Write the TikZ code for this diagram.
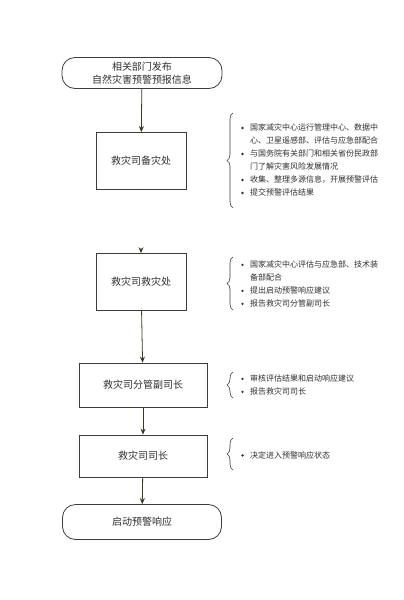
\documentclass[tikz,border=0pt]{standalone}
\usepackage{fontspec}
\newfontfamily\cjk{Noto Sans CJK SC}
\usetikzlibrary{arrows.meta,decorations.pathreplacing}
\definecolor{linec}{HTML}{3A3A22}
\definecolor{boxc}{HTML}{3C3C3C}
\definecolor{txtc}{HTML}{303030}
\tikzset{
  box/.style={draw=boxc, line width=0.8pt, minimum width=#1, text=txtc, font=\cjk\fontsize{10}{13}\selectfont, align=center},
  term/.style={box=#1, rounded corners=13pt},
  flow/.style={draw=linec, line width=0.8pt, -{Stealth[length=6pt,width=5pt]}},
  notes/.style={anchor=west, text=txtc, font=\cjk\fontsize{8}{13}\selectfont, align=left, inner sep=0pt},
  brc/.style={draw=boxc, line width=0.6pt, decorate, decoration={brace, amplitude=6pt}}
}
\newcommand{\bl}{\makebox[9pt][l]{\tikz[baseline=-2.6pt]\fill[txtc] (0,0) circle (1.3pt);}}
\newcommand{\ind}{\hspace*{9pt}}
\begin{document}
\begin{tikzpicture}[x=1pt,y=-1pt]
\useasboundingbox[fill=white] (0,0) rectangle (404,600);
\node[term=160pt, minimum height=31pt] (top) at (142,73) {相关部门发布\\自然灾害预警预报信息};
\node[box=90pt, minimum height=57pt] (b1) at (141,161) {救灾司备灾处};
\node[box=90pt, minimum height=57pt] (b2) at (141,282) {救灾司救灾处};
\node[box=128pt, minimum height=44pt] (b3) at (143,385) {救灾司分管副司长};
\node[box=128pt, minimum height=42pt] (b4) at (143,456) {救灾司司长};
\node[term=159pt, minimum height=35pt] (bot) at (142,522) {启动预警响应};

\draw[flow] (top) -- (b1);
\draw[flow, draw=white, -{Stealth[length=6pt,width=5pt,color=linec]}] (b1) -- (b2);
\draw[flow] (b2) -- (b3);
\draw[flow] (b3) -- (b4);
\draw[flow] (b4) -- (bot);

\coordinate (r1a) at (233,208); \coordinate (r1b) at (233,113);
\draw[brc] (r1a) -- (r1b);
\node[notes] (n1) at (241,160) {\bl 国家减灾中心运行管理中心、数据中\\\ind 心、卫星遥感部、评估与应急部配合\\\bl 与国务院有关部门和相关省份民政部\\\ind 门了解灾害风险发展情况\\\bl 收集、整理多源信息，开展预警评估\\\bl 提交预警评估结果};

\coordinate (r2a) at (233,310); \coordinate (r2b) at (233,257);
\draw[brc] (r2a) -- (r2b);
\node[notes] (n2) at (241,284) {\bl 国家减灾中心评估与应急部、技术装\\\ind 备部配合\\\bl 提出启动预警响应建议\\\bl 报告救灾司分管副司长};

\coordinate (r3a) at (233,398); \coordinate (r3b) at (233,372);
\draw[brc] (r3a) -- (r3b);
\node[notes] (n3) at (241,385) {\bl 审核评估结果和启动响应建议\\\bl 报告救灾司司长};

\coordinate (r4a) at (233,470); \coordinate (r4b) at (233,438);
\draw[brc] (r4a) -- (r4b);
\node[notes] (n4) at (241,455) {\bl 决定进入预警响应状态};
\end{tikzpicture}
\end{document}
